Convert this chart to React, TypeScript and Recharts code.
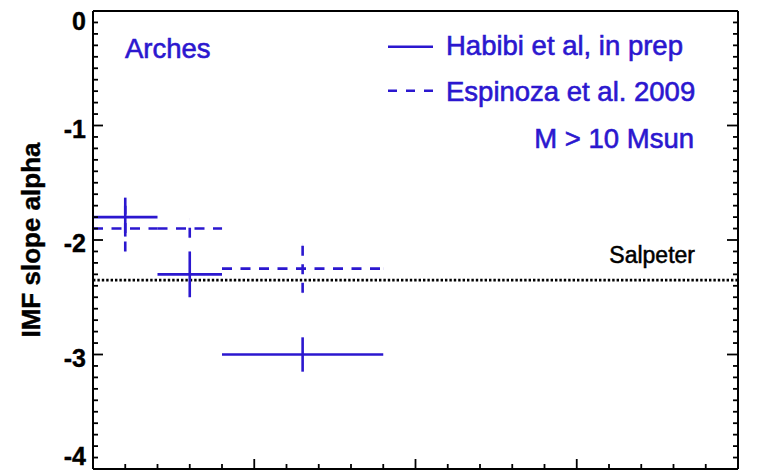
import React from 'react';
import {
  ComposedChart,
  Scatter,
  XAxis,
  YAxis,
  ErrorBar,
  ReferenceLine,
  Customized,
} from 'recharts';

// Mass bins (x) and IMF slope measurements for the Arches cluster
const massBinCenters = [10, 30, 65];
const massBinHalfWidths = [10, 10, 25];
const habibiSlopes = [-1.8, -2.3, -3.0];
const habibiSlopeErrors = [0.17, 0.2, 0.15];
const espinozaSlopes = [-1.9, -1.9, -2.25];
const espinozaSlopeErrors = [0.2, 0.08, 0.21];
const salpeterSlope = -2.35;

const seriesNames = ['Habibi et al, in prep', 'Espinoza et al. 2009'];
const yTickLabels = [0, -1, -2, -3, -4];
const xDomain = [0, 200];
const yDomain = [-4, 0];
const xMajorStep = 50;
const xMinorStep = 10;

const habibiData = massBinCenters.map((m, i) => ({
  m,
  alpha: habibiSlopes[i],
  mErr: massBinHalfWidths[i],
  aErr: habibiSlopeErrors[i],
}));
const espinozaData = massBinCenters.map((m, i) => ({
  m,
  alpha: espinozaSlopes[i],
  mErr: massBinHalfWidths[i],
  aErr: espinozaSlopeErrors[i],
}));

// minor tick grids
const xTicks: number[] = [];
for (let v = xDomain[0]; v <= xDomain[1]; v += xMinorStep) xTicks.push(v);
const yTicks: number[] = [];
for (let i = yDomain[0] * 10; i <= yDomain[1] * 10; i++) yTicks.push(i / 10);

// layout
const W = 761;
const H = 472;
const PLOT_LEFT = 93;
const PLOT_RIGHT = 738;
const PLOT_TOP = 11;
const PLOT_BOTTOM = 469;
const BLUE = '#2b17cf';
const FONT = '"Liberation Sans", Arial, Helvetica, sans-serif';

const isMajorY = (v: number) => Math.abs(v - Math.round(v)) < 1e-6;
const isMajorX = (v: number) => Math.abs(v / xMajorStep - Math.round(v / xMajorStep)) < 1e-6;

const LeftTick = (props: any) => {
  const { y, payload } = props;
  const v = payload.value as number;
  const major = isMajorY(v);
  const len = major ? 10 : 5;
  // keep the end labels inside the frame
  const labelY = Math.min(Math.max(y + 3, PLOT_TOP + 10), PLOT_BOTTOM - 13);
  const r = Math.round(v);
  return (
    <g>
      <line x1={PLOT_LEFT} x2={PLOT_LEFT + len} y1={y} y2={y} stroke="#000" strokeWidth={1.8} />
      {major && yTickLabels.includes(r) && (
        <text
          x={86}
          y={labelY}
          textAnchor="end"
          dominantBaseline="central"
          fontFamily={FONT}
          fontWeight="bold"
          fontSize={25}
          fill="#000"
          stroke="#000"
          strokeWidth={0.4}
        >
          {r === 0 ? '0' : String(r)}
        </text>
      )}
    </g>
  );
};

const RightTick = (props: any) => {
  const { y, payload } = props;
  const len = isMajorY(payload.value) ? 11 : 5;
  return <line x1={PLOT_RIGHT} x2={PLOT_RIGHT - len} y1={y} y2={y} stroke="#000" strokeWidth={1.8} />;
};

const BottomTick = (props: any) => {
  const { x, payload } = props;
  const len = isMajorX(payload.value) ? 10 : 5;
  return <line x1={x} x2={x} y1={PLOT_BOTTOM} y2={PLOT_BOTTOM - len} stroke="#000" strokeWidth={1.8} />;
};

const TopTick = (props: any) => {
  const { x, payload } = props;
  const len = isMajorX(payload.value) ? 10 : 5;
  return <line x1={x} x2={x} y1={PLOT_TOP} y2={PLOT_TOP + len} stroke="#000" strokeWidth={1.8} />;
};

const NoMarker = () => <g />;

const SalpeterLabel = (props: any) => {
  const vb = props.viewBox || {};
  return (
    <text
      x={vb.x + vb.width - 43}
      y={vb.y - 17}
      textAnchor="end"
      fontFamily={FONT}
      fontSize={23}
      fill="#000"
      stroke="#000"
      strokeWidth={0.5}
    >
      Salpeter
    </text>
  );
};

const Annotations = () => (
  <g fontFamily={FONT}>
    <g fill={BLUE} stroke={BLUE} strokeWidth={0.6} fontSize={27.5}>
      <text x={125} y={57.5}>
        Arches
      </text>
      <text x={446} y={54.5}>
        {seriesNames[0]}
      </text>
      <text x={446} y={101}>
        {seriesNames[1]}
      </text>
      <text x={694} y={147.5} textAnchor="end">
        M &gt; 10 Msun
      </text>
    </g>
    <line x1={388} x2={433} y1={46.7} y2={46.7} stroke={BLUE} strokeWidth={2.6} />
    <line x1={388} x2={433} y1={90.7} y2={90.7} stroke={BLUE} strokeWidth={2.6} strokeDasharray="9 9" />
    <text
      transform={`translate(40 ${(PLOT_TOP + PLOT_BOTTOM) / 2}) rotate(-90)`}
      textAnchor="middle"
      fontWeight="bold"
      fontSize={26}
      fill="#000"
      stroke="#000"
      strokeWidth={0.4}
    >
      IMF slope alpha
    </text>
  </g>
);

export default function App() {
  return (
    <div style={{ position: 'absolute', left: 0, top: 0, width: W, height: H, background: '#fff' }}>
      <ComposedChart width={W} height={H} margin={{ top: 0, right: 0, bottom: 0, left: 0 }}>
        <XAxis
          xAxisId="top"
          orientation="top"
          type="number"
          domain={xDomain}
          ticks={xTicks}
          interval={0}
          height={PLOT_TOP}
          tick={<TopTick />}
          tickLine={false}
          axisLine={{ stroke: '#000', strokeWidth: 2 }}
          allowDataOverflow
        />
        <XAxis
          xAxisId="x"
          dataKey="m"
          type="number"
          domain={xDomain}
          ticks={xTicks}
          interval={0}
          height={H - PLOT_BOTTOM}
          tick={<BottomTick />}
          tickLine={false}
          axisLine={{ stroke: '#000', strokeWidth: 2 }}
          allowDataOverflow
        />
        <YAxis
          yAxisId="y"
          dataKey="alpha"
          type="number"
          domain={yDomain}
          ticks={yTicks}
          interval={0}
          width={PLOT_LEFT}
          tick={<LeftTick />}
          tickLine={false}
          axisLine={{ stroke: '#000', strokeWidth: 2 }}
          allowDataOverflow
        />
        <YAxis
          yAxisId="right"
          orientation="right"
          type="number"
          domain={yDomain}
          ticks={yTicks}
          interval={0}
          width={W - PLOT_RIGHT}
          tick={<RightTick />}
          tickLine={false}
          axisLine={{ stroke: '#000', strokeWidth: 2 }}
          allowDataOverflow
        />
        <ReferenceLine
          xAxisId="x"
          yAxisId="y"
          y={salpeterSlope}
          stroke="#000"
          strokeWidth={2.6}
          strokeDasharray="2.4 2"
          label={<SalpeterLabel />}
        />
        <Scatter
          name={seriesNames[1]}
          data={espinozaData}
          xAxisId="x"
          yAxisId="y"
          shape={<NoMarker />}
          isAnimationActive={false}
        >
          <ErrorBar
            dataKey="mErr"
            direction="x"
            width={0}
            stroke={BLUE}
            strokeWidth={2.6}
            strokeDasharray="10 8.5"
            isAnimationActive={false}
          />
          <ErrorBar
            dataKey="aErr"
            direction="y"
            width={0}
            stroke={BLUE}
            strokeWidth={2.6}
            strokeDasharray="10 8.5"
            isAnimationActive={false}
          />
        </Scatter>
        <Scatter
          name={seriesNames[0]}
          data={habibiData}
          xAxisId="x"
          yAxisId="y"
          shape={<NoMarker />}
          isAnimationActive={false}
        >
          <ErrorBar dataKey="mErr" direction="x" width={0} stroke={BLUE} strokeWidth={2.6} isAnimationActive={false} />
          <ErrorBar dataKey="aErr" direction="y" width={0} stroke={BLUE} strokeWidth={2.6} isAnimationActive={false} />
        </Scatter>
        <Customized component={<Annotations />} />
      </ComposedChart>
    </div>
  );
}
